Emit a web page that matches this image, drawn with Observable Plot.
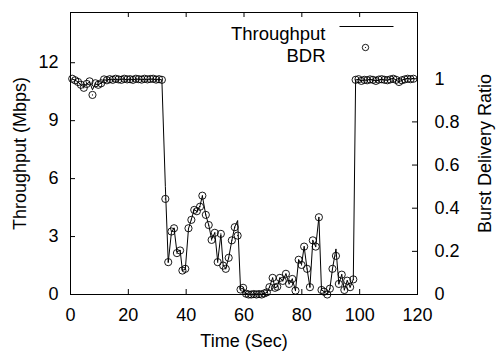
<!DOCTYPE html>
<html><head><meta charset="utf-8">
<script src="https://cdn.jsdelivr.net/npm/d3@7"></script>
<script src="https://cdn.jsdelivr.net/npm/@observablehq/plot@0.6"></script>
<style>body{margin:0;background:#fff} svg{display:block}</style>
</head><body><div id="chart"></div>
<script>
// Time (s)
const time = [
  0.6,1.6,2.6,3.6,4.6,5.6,6.6,7.6,8.6,9.6,10.6,11.6,12.6,13.6,14.6,15.6,
  16.6,17.6,18.6,19.6,20.6,21.6,22.6,23.6,24.6,25.6,26.6,27.6,28.6,29.6,30.6,31.6,
  32.8,33.8,34.9,35.8,36.8,37.9,38.7,39.7,40.8,41.8,42.8,43.7,44.8,45.6,46.8,47.8,
  48.8,49.9,50.9,52.0,52.8,53.7,54.7,55.8,56.8,57.8,58.8,59.7,60.7,61.6,62.5,63.4,
  64.3,65.2,66.1,67.0,67.9,68.8,69.9,70.7,71.5,72.4,73.4,74.5,75.6,76.7,77.8,78.9,
  79.9,80.8,81.8,82.8,83.8,84.8,85.9,86.8,87.7,88.8,89.7,90.6,91.8,92.8,93.8,94.7,
  95.7,96.7,97.8,
  98.6,99.6,100.6,101.6,102.6,103.6,104.6,105.6,106.6,107.6,108.6,109.6,110.6,
  111.6,112.6,113.6,114.6,115.6,116.6,117.6,118.6
];
// Throughput (Mbps)
const throughput = [
  11.15,11.1,11.0,10.85,10.75,10.9,11.0,10.6,10.9,10.85,10.95,11.1,11.1,11.15,11.1,11.15,
  11.1,11.15,11.15,11.1,11.15,11.1,11.15,11.15,11.1,11.15,11.1,11.15,11.15,11.1,11.15,11.1,
  5.6,1.67,3.2,3.45,2.2,2.3,1.25,1.3,3.4,3.9,4.4,4.3,4.6,5.1,4.1,3.6,
  2.85,3.2,1.7,3.1,1.5,1.35,1.9,2.8,3.5,3.83,0.3,0.3,0.05,0.02,0.0,0.0,
  0.03,0.0,0.02,0.05,0.1,0.38,0.86,0.35,0.4,0.86,0.7,1.07,0.55,0.8,0.2,1.8,
  1.55,2.48,1.33,0.38,2.8,2.48,4.0,0.24,0.15,0.0,0.3,1.33,2.36,0.55,1.03,0.24,
  0.72,0.38,0.78,
  11.1,11.15,11.05,11.1,11.1,11.15,11.1,11.05,11.1,11.15,11.1,11.1,11.15,
  11.2,11.1,11.0,11.1,11.15,11.2,11.15,11.2
];
// Burst Delivery Ratio
const bdr = [
  1.0,0.993,0.985,0.972,0.958,0.976,0.988,0.925,0.979,0.972,0.979,0.997,0.993,0.998,0.995,1.0,
  0.997,0.995,1.0,0.997,0.998,0.995,1.0,0.998,0.996,1.0,0.997,0.999,1.0,0.996,0.998,0.995,
  0.443,0.150,0.292,0.307,0.192,0.204,0.111,0.119,0.307,0.346,0.392,0.386,0.407,0.458,0.369,0.322,
  0.253,0.286,0.150,0.281,0.134,0.119,0.170,0.251,0.312,0.273,0.023,0.031,0.004,0.0,0.0,0.002,
  0.0,0.002,0.0,0.005,0.010,0.034,0.077,0.031,0.036,0.077,0.063,0.096,0.049,0.072,0.018,0.161,
  0.137,0.222,0.119,0.034,0.251,0.222,0.358,0.021,0.013,0.0,0.027,0.119,0.179,0.049,0.092,0.021,
  0.064,0.034,0.070,
  0.995,0.998,0.99,0.995,0.993,0.997,0.995,0.99,0.996,0.998,0.995,0.993,0.997,
  1.0,0.995,0.985,0.993,0.997,1.0,0.998,1.0
];
const xTicks = [0, 20, 40, 60, 80, 100, 120];
const yTicks = [0, 3, 6, 9, 12];
const bdrTicks = [0, 0.2, 0.4, 0.6, 0.8, 1];

const K = 11.17; // Mbps that line up with a BDR of 1 on the right axis
const data = time.map((t, i) => ({t, thr: throughput[i], bdr: bdr[i]}));

const W = 497, H = 354, mL = 70, mR = 80, mT = 12, mB = 60;
const fw = W - mL - mR, fh = H - mT - mB, tl = 5;
const font = "'Liberation Sans', Arial, Helvetica, sans-serif";
const lineSym = {draw(ctx) { ctx.moveTo(-27, 0); ctx.lineTo(27, 0); }};

const chart = Plot.plot({
  width: W, height: H,
  marginLeft: mL, marginRight: mR, marginTop: mT, marginBottom: mB,
  style: {fontFamily: font, fontSize: "18px", color: "#000", background: "#fff", overflow: "visible"},
  x: {domain: [0, 120]},
  y: {domain: [0, 14.6]},
  marks: [
    Plot.axisX({ticks: xTicks, anchor: "bottom", tickSize: 0, tickPadding: 14, label: null, fontSize: 18}),
    Plot.axisY({ticks: yTicks, anchor: "left", tickSize: 0, tickPadding: 12, label: null, fontSize: 18}),
    Plot.axisY({ticks: bdrTicks.map(b => b * K), anchor: "right", tickSize: 0, tickPadding: 17, label: null, fontSize: 18,
      tickFormat: v => String(+(v / K).toFixed(1))}),
    Plot.tickX(xTicks.slice(1, -1), {x: d => d, insetTop: fh - tl, stroke: "#000"}),
    Plot.tickX(xTicks.slice(1, -1), {x: d => d, insetBottom: fh - tl, stroke: "#000"}),
    Plot.tickY(yTicks.slice(1), {y: d => d, insetRight: fw - tl, stroke: "#000"}),
    Plot.tickY(bdrTicks.slice(1).map(b => b * K), {y: d => d, insetLeft: fw - tl, stroke: "#000"}),
    Plot.line(data, {x: "t", y: "thr", stroke: "#000", strokeWidth: 1}),
    Plot.dot(data, {x: "t", y: d => d.bdr * K, r: 3.6, stroke: "#000", strokeWidth: 0.9, fill: "none"}),
    Plot.dot(data, {x: "t", y: d => d.bdr * K, r: 0.6, fill: "#000"}),
    Plot.frame({stroke: "#000", strokeWidth: 1}),
    // legend
    Plot.text(["Throughput"], {frameAnchor: "top-right", dx: -92, dy: 14, textAnchor: "end", fontSize: 18.5, fill: "#000"}),
    Plot.dot([0], {frameAnchor: "top-right", dx: -51, dy: 14, symbol: lineSym, stroke: "#000", fill: "none", strokeWidth: 1}),
    Plot.text(["BDR"], {frameAnchor: "top-right", dx: -92, dy: 36, textAnchor: "end", fontSize: 18.5, fill: "#000"}),
    Plot.dot([0], {frameAnchor: "top-right", dx: -52, dy: 35, r: 3.2, stroke: "#000", fill: "none", strokeWidth: 0.9}),
    Plot.dot([0], {frameAnchor: "top-right", dx: -52, dy: 35, r: 0.6, fill: "#000"}),
    // axis titles
    Plot.text(["Time (Sec)"], {frameAnchor: "bottom", dy: 47, lineAnchor: "middle", fontSize: 18, fill: "#000"}),
    Plot.text(["Throughput (Mbps)"], {frameAnchor: "left", dx: -50, rotate: -90, textAnchor: "middle", lineAnchor: "middle", fontSize: 18, fill: "#000"}),
    Plot.text(["Burst Delivery Ratio"], {frameAnchor: "right", dx: 68, rotate: -90, textAnchor: "middle", lineAnchor: "middle", fontSize: 18, fill: "#000"})
  ]
});
document.getElementById("chart").appendChild(chart);
</script>
</body></html>
